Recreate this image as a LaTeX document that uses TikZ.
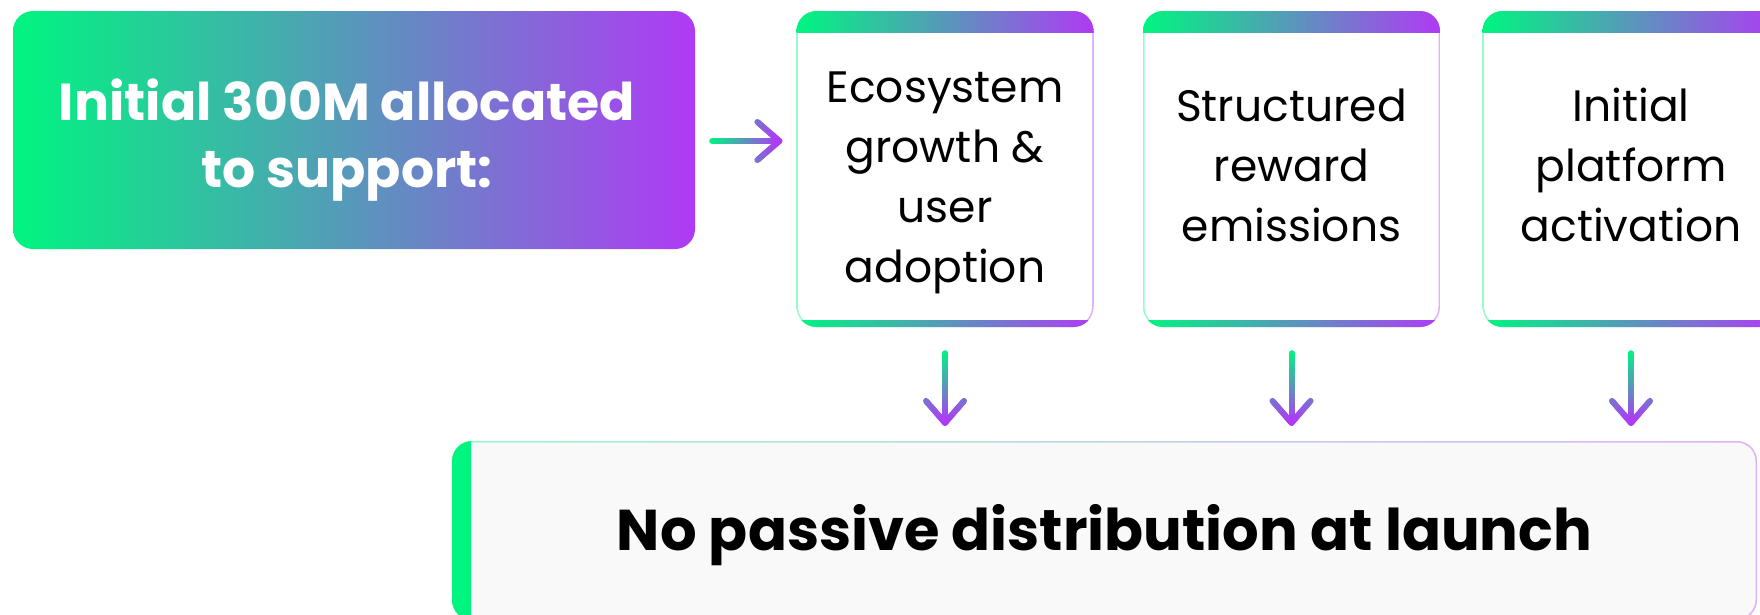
\documentclass[tikz,border=0pt]{standalone}
\usepackage{fontspec}
\setmainfont{Poppins}
\usetikzlibrary{calc}

\definecolor{tgreen}{RGB}{0,245,128}
\definecolor{tpurple}{RGB}{176,58,245}
\definecolor{panelgray}{RGB}{249,249,250}

% centred lines, moved down by #1:
\newcommand\boxtext[2]{\raisebox{#1}[0pt][0pt]{\begin{tabular}{@{}c@{}}#2\end{tabular}}}

% one straight stroke, coloured from #3 to #4 (percent purple):
\newcommand\gradline[4]{%
  \foreach \k in {1,...,16}{%
    \pgfmathsetmacro\ta{(\k-1)/16}%
    \pgfmathsetmacro\tb{\k/16}%
    \pgfmathtruncatemacro\pct{#3+(#4-#3)*(\k-0.5)/16}%
    \draw[flowline, draw=tpurple!\pct!tgreen] ($(#1)!\ta!(#2)$) -- ($(#1)!\tb!(#2)$);
  }}

% arrow from #1 to the tip #2:
\newcommand\gradarrow[2]{%
  \coordinate (armA) at ($(#2)!29pt!41:(#1)$);
  \coordinate (armB) at ($(#2)!29pt!-41:(#1)$);
  \gradline{#1}{#2}{0}{100}
  \gradline{armA}{#2}{68}{100}
  \gradline{armB}{#2}{68}{100}
}

\begin{document}
\begin{tikzpicture}[
    x=1pt, y=-1pt,
    flowline/.style={line width=6pt, line cap=round},
    initbox/.style={rounded corners=20pt, left color=tgreen, right color=tpurple,
      minimum width=682pt, minimum height=238pt, text=white,
      font=\bfseries\fontsize{52}{67}\selectfont},
    card/.style={rounded corners=20pt, minimum width=297pt, minimum height=316pt,
      font=\fontsize{44}{60}\selectfont,
      path picture={
        \shade[sharp corners, left color=tgreen!40!white, right color=tpurple!40!white]
          (path picture bounding box.south west) rectangle (path picture bounding box.north east);
        \fill[white, rounded corners=19pt]
          ([shift={(1.5pt,1.5pt)}]path picture bounding box.south west) rectangle
          ([shift={(-1.5pt,-1.5pt)}]path picture bounding box.north east);
        \shade[sharp corners, left color=tgreen, right color=tpurple]
          ([yshift=-21pt]path picture bounding box.north west) rectangle (path picture bounding box.north east);
        \shade[sharp corners, left color=tgreen, right color=tpurple]
          (path picture bounding box.south west) rectangle ([yshift=7pt]path picture bounding box.south east);
      }},
    panel/.style={rounded corners=20pt, minimum width=1305pt, minimum height=179pt,
      font=\bfseries\fontsize{57.5}{60}\selectfont,
      path picture={
        \shade[sharp corners, left color=tgreen!40!white, right color=tpurple!40!white]
          (path picture bounding box.south west) rectangle (path picture bounding box.north east);
        \fill[panelgray, rounded corners=19pt]
          ([shift={(1.5pt,1.5pt)}]path picture bounding box.south west) rectangle
          ([shift={(-1.5pt,-1.5pt)}]path picture bounding box.north east);
        \fill[tgreen, sharp corners]
          (path picture bounding box.south west) rectangle ([xshift=19pt]path picture bounding box.north west);
      }}
    ]

    \useasboundingbox (0,0) rectangle (1760,614);
    \clip (0,0) rectangle (1760,614);

    % allocation:
    \node (init) at (354,130) [initbox] {\boxtext{-17pt}{Initial 300M allocated\\to support:}\kern14pt};

    % uses:
    \node (eco) at (945,169) [card] {\boxtext{-18pt}{Ecosystem\\growth \&\\user\\adoption}};
    \node (rew) at (1291.5,169) [card] {\boxtext{-7pt}{Structured\\reward\\emissions}};
    \node (act) at (1631,169) [card] {\boxtext{-7pt}{Initial\\platform\\activation}};

    % result:
    \node (launch) at (1104.5,530.5) [panel] {\raisebox{-19.5pt}[0pt][0pt]{No passive distribution at launch}};

    % arrow to the uses:
    \coordinate (rs) at ($(init.east)+(17,11)$);
    \coordinate (re) at ($(rs -| eco.west)+(-17,0)$);
    \gradarrow{rs}{re}

    % arrows down to the result:
    \foreach \c in {eco,rew,act}{
      \coordinate (ds) at ($(\c.south)+(0,26)$);
      \coordinate (de) at ($(\c.south |- launch.north)+(0,-18)$);
      \gradarrow{ds}{de}
    }

\end{tikzpicture}
\end{document}
